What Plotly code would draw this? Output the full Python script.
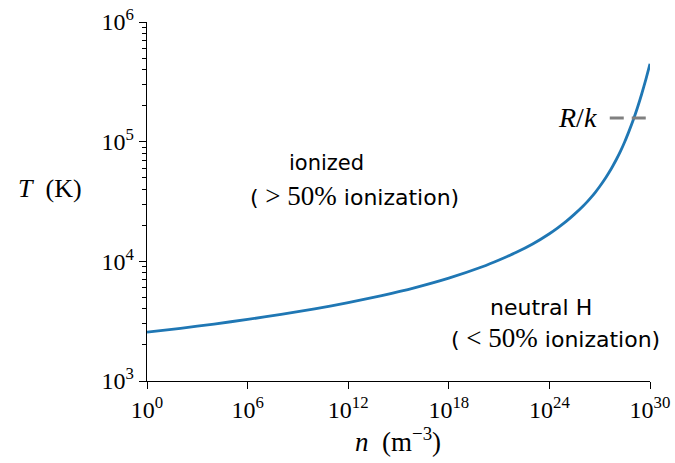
import plotly.graph_objects as go

# log10 of density n (m^-3) and temperature T (K)
log_n = [0, 2, 4, 6, 8, 10, 12, 14, 16, 18, 20, 21, 22, 23, 24, 24.5, 25, 25.5,
         26, 26.25, 26.5, 26.75, 27, 27.25, 27.5, 27.75, 28, 28.25, 28.5, 28.75,
         29, 29.25, 29.5, 29.75, 30]
T_vals = [2558, 2758, 2993, 3270, 3603, 4010, 4519, 5170, 6035, 7237, 9000,
          10250, 11835, 13960, 17010, 19050, 21550, 24800,
          28870, 31400, 34400, 37950, 42200, 47300, 53700, 61500, 71300,
          83700, 100300, 122500, 151500, 192000, 249000, 330000, 447000]

# R/k reference line
Rk_T = 157800
Rk_logn = [27.6, 29.8]

x_tick_exp = [0, 6, 12, 18, 24, 30]
y_tick_exp = [3, 4, 5, 6]

n_vals = [10.0 ** v for v in log_n]

serif = "Liberation Serif"
sans = "DejaVu Sans"

fig = go.Figure()
fig.add_trace(go.Scatter(x=n_vals, y=T_vals, mode="lines",
                         line=dict(color="#1f77b4", width=2.8, shape="spline", smoothing=0.6),
                         showlegend=False))
fig.add_trace(go.Scatter(x=[10.0 ** v for v in Rk_logn], y=[Rk_T, Rk_T], mode="lines",
                         line=dict(color="#808080", width=3, dash="14px,8px"),
                         showlegend=False))

minor_y = [float(m * 10 ** e) for e in [3, 4, 5] for m in range(2, 10)]

fig.update_layout(
    width=675, height=463,
    margin=dict(l=147, r=25, t=22, b=82, autoexpand=False),
    plot_bgcolor="white", paper_bgcolor="white",
    font=dict(family=serif, size=24, color="black"),
    xaxis=dict(type="log", range=[0, 30], showgrid=False, zeroline=False,
               automargin=False,
               showline=True, linecolor="black", linewidth=1.4,
               ticks="outside", ticklen=7, tickwidth=1.4, tickcolor="black",
               tickvals=[10.0 ** e for e in x_tick_exp],
               ticktext=["10<sup>%d</sup>" % e for e in x_tick_exp],
               tickfont=dict(family=serif, size=24)),
    yaxis=dict(type="log", range=[3, 6], showgrid=False, zeroline=False,
               automargin=False,
               showline=True, linecolor="black", linewidth=1.4,
               ticks="outside", ticklen=7, tickwidth=1.4, tickcolor="black",
               tickvals=[10.0 ** e for e in y_tick_exp],
               ticktext=["10<sup>%d</sup>" % e for e in y_tick_exp],
               tickfont=dict(family=serif, size=24),
               minor=dict(tickvals=minor_y, ticks="outside", ticklen=4,
                          tickwidth=1.2, tickcolor="black", showgrid=False)),
)

def px(x):
    return (x - 147) / 503

def py(y):
    return (381 - y) / 359

sp = "<span style='font-family:%s;font-size:27px'>%s</span>"

ann = [
    dict(text="<i>T</i>  (K)", x=px(84), y=py(188), xanchor="right", yanchor="middle",
         font=dict(family=serif, size=26)),
    dict(text="<i>n</i>  (m<sup>−3</sup>)", x=px(398), y=py(440), xanchor="center",
         yanchor="middle", font=dict(family=serif, size=27)),
    dict(text="<i>R</i>/<i>k</i>", x=px(599), y=py(118), xanchor="right",
         yanchor="middle", font=dict(family=serif, size=28)),
    dict(text="ionized", x=px(326), y=py(163), xanchor="center", yanchor="middle",
         font=dict(family=sans, size=21)),
    dict(text="(" + sp % (serif, " &gt; 50%") + " ionization)", x=px(354), y=py(196),
         xanchor="center", yanchor="middle", font=dict(family=sans, size=22)),
    dict(text="neutral H", x=px(541), y=py(307), xanchor="center", yanchor="middle",
         font=dict(family=sans, size=22)),
    dict(text="(" + sp % (serif, " &lt; 50%") + " ionization)", x=px(555), y=py(338),
         xanchor="center", yanchor="middle", font=dict(family=sans, size=22)),
]
for a in ann:
    a["showarrow"] = False
    a["xref"] = "paper"
    a["yref"] = "paper"
    fig.add_annotation(**a)

fig.write_html("out.html")
